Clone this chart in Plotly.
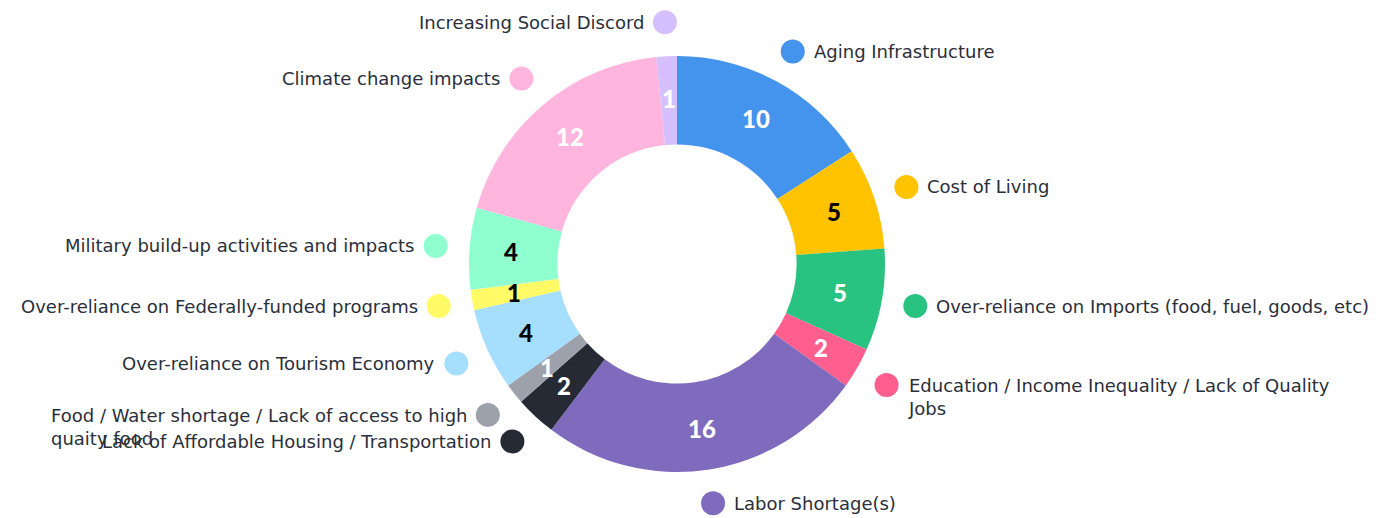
import math
import plotly.graph_objects as go

labels = [
    "Aging Infrastructure",
    "Cost of Living",
    "Over-reliance on Imports (food, fuel, goods, etc)",
    "Education / Income Inequality / Lack of Quality<br>Jobs",
    "Labor Shortage(s)",
    "Lack of Affordable Housing / Transportation",
    "Food / Water shortage / Lack of access to high<br>quaity food",
    "Over-reliance on Tourism Economy",
    "Over-reliance on Federally-funded programs",
    "Military build-up activities and impacts",
    "Climate change impacts",
    "Increasing Social Discord",
]
values = [10, 5, 5, 2, 16, 2, 1, 4, 1, 4, 12, 1]
colors = ["#4493EC", "#FFC300", "#28C381", "#FF5E8F", "#7F6BBD", "#252A34",
          "#9DA1AC", "#A6DEFE", "#FFFA66", "#90FFD0", "#FFB5DD", "#D5BFFF"]
value_text_colors = ["white", "black", "white", "white", "white", "white",
                     "white", "black", "black", "black", "white", "white"]

# page body has an 8px margin; work in figure coordinates
OFF = 8
W, H = 1387 - OFF, 518 - OFF
CX, CY = 677 - OFF, 264 - OFF
R_OUT = 208
HOLE = 0.575
R_TEXT = 166
R_DOT = 242
LABEL_SIZE = 18

fig = go.Figure()
fig.add_trace(go.Pie(
    labels=labels, values=values, sort=False, direction="clockwise", rotation=0,
    hole=HOLE, marker=dict(colors=colors, line=dict(width=0)),
    textinfo="none", hoverinfo="label+value", showlegend=False,
    domain=dict(x=[(CX - R_OUT) / W, (CX + R_OUT) / W],
                y=[(H - CY - R_OUT) / H, (H - CY + R_OUT) / H]),
))

total = sum(values)
cum = 0
dots_x, dots_y = [], []
annotations = []
for lab, v, tc in zip(labels, values, value_text_colors):
    mid = (cum + v / 2) / total * 2 * math.pi
    cum += v
    s, c = math.sin(mid), math.cos(mid)
    dx, dy = CX + R_DOT * s, CY - R_DOT * c
    dots_x.append(dx)
    dots_y.append(dy)
    right = s > 0
    multiline = "<br>" in lab
    annotations.append(dict(
        x=dx + (19 if right else -19),
        y=dy - (0.65 * LABEL_SIZE if multiline else 0),
        xref="x", yref="y", text=lab, showarrow=False,
        xanchor="left" if right else "right",
        yanchor="top" if multiline else "middle",
        align="left",
        font=dict(family="DejaVu Sans", size=LABEL_SIZE, color="#2B2F3A"),
    ))
    annotations.append(dict(
        x=CX + R_TEXT * s, y=CY - R_TEXT * c, xref="x", yref="y",
        text=str(v), showarrow=False, xanchor="center", yanchor="middle",
        font=dict(family="Lato", size=24, color=tc, weight=900),
    ))

fig.add_trace(go.Scatter(
    x=dots_x, y=dots_y, mode="markers",
    marker=dict(size=24, color=colors, line=dict(width=0)),
    hoverinfo="skip", showlegend=False,
))

fig.update_layout(
    width=W, height=H, margin=dict(l=0, r=0, t=0, b=0),
    paper_bgcolor="white", plot_bgcolor="rgba(0,0,0,0)",
    xaxis=dict(range=[0, W], visible=False, fixedrange=True),
    yaxis=dict(range=[H, 0], visible=False, fixedrange=True),
    annotations=annotations,
)

fig.write_html("out.html")
